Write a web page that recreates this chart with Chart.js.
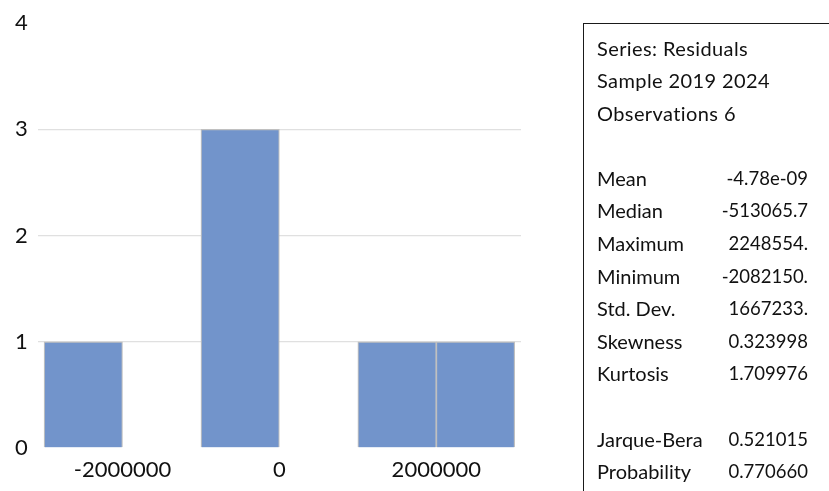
<!DOCTYPE html>
<html>
<head>
<meta charset="utf-8">
<script src="https://cdn.jsdelivr.net/npm/chart.js@4"></script>
<style>
  html, body { margin: 0; padding: 0; background: #fff; }
  #wrap { position: relative; width: 829px; height: 491px; overflow: hidden; }
  #c { position: absolute; left: 0; top: 0; }
  #stats {
    position: absolute; left: 583px; top: 23px; width: 270px; height: 500px;
    border: 1.5px solid #1a1a1a; box-sizing: border-box;
    font-family: Lato, "Open Sans", sans-serif; color: #111;
    padding-top: 7.5px;
  }
  #stats .row { height: 32.6px; line-height: 32.6px; position: relative; white-space: nowrap; }
  #stats .lab { position: absolute; left: 13px; font-size: 20px; }
  #stats .lab.hdr { letter-spacing: 0.4px; }
  #stats .val { position: absolute; right: 44px; text-align: right; font-size: 18.5px; }
</style>
</head>
<body>
<div id="wrap">
  <canvas id="c" width="829" height="491"></canvas>
  <div id="stats"></div>
</div>
<script>
// Histogram bins (centers of 1,000,000-wide bins) and counts
const binCenters = [-2500000, -1500000, -500000, 500000, 1500000, 2500000];
const counts = [1, 0, 3, 0, 1, 1];
const xTickValues = [-2000000, 0, 2000000];
const yTickValues = [0, 1, 2, 3, 4];

// Statistics panel
const headerLines = ["Series: Residuals", "Sample 2019 2024", "Observations 6"];
const statLabels = ["Mean", "Median", "Maximum", "Minimum", "Std. Dev.", "Skewness", "Kurtosis"];
const statValues = ["-4.78e-09", "-513065.7", "2248554.", "-2082150.", "1667233.", "0.323998", "1.709976"];
const testLabels = ["Jarque-Bera", "Probability"];
const testValues = ["0.521015", "0.770660"];

// build stats panel
const panel = document.getElementById('stats');
function addRow(lab, val, hdr) {
  const r = document.createElement('div'); r.className = 'row';
  if (lab !== null) { const a = document.createElement('span'); a.className = hdr ? 'lab hdr' : 'lab'; a.textContent = lab; r.appendChild(a); }
  if (val !== null) { const b = document.createElement('span'); b.className = 'val'; b.textContent = val; r.appendChild(b); }
  panel.appendChild(r);
}
headerLines.forEach(h => addRow(h, null, true));
addRow(null, null);
statLabels.forEach((l, i) => addRow(l, statValues[i]));
addRow(null, null);
testLabels.forEach((l, i) => addRow(l, testValues[i]));

const FONT = 'Lato, "Open Sans", sans-serif';

new Chart(document.getElementById('c'), {
  type: 'bar',
  data: {
    datasets: [{
      data: binCenters.map((x, i) => ({ x: x, y: counts[i] })),
      backgroundColor: 'rgb(114,148,203)',
      borderColor: 'rgb(192,192,192)',
      borderWidth: 1.2,
      barPercentage: 1.0,
      categoryPercentage: 1.0
    }]
  },
  options: {
    responsive: false,
    animation: false,
    layout: { padding: { left: 5, right: 308, top: 23, bottom: 0 } },
    plugins: { legend: { display: false }, tooltip: { enabled: false } },
    scales: {
      x: {
        type: 'linear',
        offset: false,
        min: -3080000,
        max: 3080000,
        afterBuildTicks: s => { s.ticks = xTickValues.map(v => ({ value: v })); },
        grid: { display: false, drawTicks: false, offset: false },
        border: { display: false },
        ticks: {
          padding: 10.5,
          color: '#111',
          font: { family: FONT, size: 22, lineHeight: 1.0 },
          maxRotation: 0,
          callback: v => String(v)
        }
      },
      y: {
        min: 0,
        max: 4,
        afterBuildTicks: s => { s.ticks = yTickValues.map(v => ({ value: v })); },
        grid: {
          drawTicks: false,
          lineWidth: 1.3,
          color: c => (c.tick && (c.tick.value === 0 || c.tick.value === 4)) ? 'rgba(0,0,0,0)' : 'rgb(224,224,224)'
        },
        border: { display: false },
        ticks: {
          padding: 10,
          color: '#111',
          font: { family: FONT, size: 22 },
          callback: v => String(v)
        }
      }
    }
  }
});
</script>
</body>
</html>
